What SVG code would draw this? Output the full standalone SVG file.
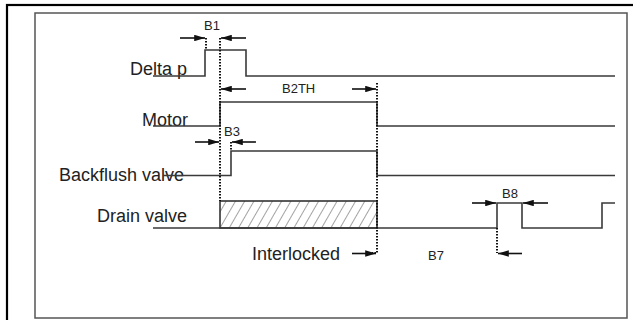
<svg xmlns="http://www.w3.org/2000/svg" width="633" height="320" viewBox="0 0 633 320">
<defs>
<marker id="ah" viewBox="0 0 10 6" refX="10" refY="3" markerWidth="11" markerHeight="6.5" markerUnits="userSpaceOnUse" orient="auto">
<path d="M0,0 L10,3 L0,6 Z" fill="#111"/>
</marker>
<pattern id="hatch" patternUnits="userSpaceOnUse" width="8" height="8" patternTransform="rotate(30)">
<line x1="0" y1="0" x2="0" y2="8" stroke="#333" stroke-width="0.9"/>
</pattern>
</defs>
<style>
.sig{fill:none;stroke:#3a3a3a;stroke-width:1.6}
.dot{fill:none;stroke:#111;stroke-width:2;stroke-dasharray:1.6 1.4}
.arr{stroke:#111;stroke-width:1.6;marker-end:url(#ah)}
.lbl{font-family:"Liberation Sans",Arial,sans-serif;font-size:18px;fill:#222}
.sm{font-family:"Liberation Sans",Arial,sans-serif;font-size:13px;fill:#222}
</style>
<rect x="0" y="0" width="633" height="320" fill="#fff"/>
<rect x="7" y="5" width="700" height="400" fill="none" stroke="#000" stroke-width="2.2"/>
<rect x="35" y="13" width="592" height="305" fill="none" stroke="#555" stroke-width="1.5"/>

<g id="delta-p">
<text class="lbl" x="130" y="75">Delta p</text>
<polyline class="sig" points="153,76 205,76 205,50 246,50 246,76 615,76"/>
</g>
<g id="motor">
<text class="lbl" x="142" y="126">Motor</text>
<polyline class="sig" points="153,126 220,126 220,102 377,102 377,126 615,126"/>
</g>
<g id="backflush-valve">
<text class="lbl" x="59" y="181">Backflush valve</text>
<polyline class="sig" points="163,175.5 231,175.5 231,151 377,151 377,175.5 615,175.5"/>
</g>
<g id="drain-valve">
<text class="lbl" x="97" y="222">Drain valve</text>
<rect x="220" y="201" width="157" height="27" fill="url(#hatch)" stroke="#333" stroke-width="1.6"/>
<polyline class="sig" points="153,228 497,228 497,203 522,203 522,228 602,228 602,203 615,203"/>
</g>

<g id="connectors">
<line class="dot" x1="206" y1="38" x2="206" y2="50"/>
<line class="dot" x1="220" y1="38" x2="220" y2="201"/>
<line class="dot" x1="231" y1="142" x2="231" y2="151"/>
<polyline class="dot" points="377,83 377,253 372,253"/>
<line class="dot" x1="497" y1="228" x2="497" y2="253"/>

<line class="arr" x1="180" y1="38" x2="205" y2="38"/>
<line class="arr" x1="246" y1="38" x2="221" y2="38"/>
<line class="arr" x1="246" y1="89" x2="221" y2="89"/>
<line class="arr" x1="352" y1="89" x2="376" y2="89"/>
<line class="arr" x1="195" y1="142" x2="219" y2="142"/>
<line class="arr" x1="256" y1="142" x2="232" y2="142"/>
<line class="arr" x1="352" y1="253.5" x2="376" y2="253.5"/>
<line class="arr" x1="472" y1="203" x2="496" y2="203"/>
<line class="arr" x1="548" y1="203" x2="523" y2="203"/>
<line class="arr" x1="522" y1="253.5" x2="498" y2="253.5"/>
</g>

<g id="labels">
<text class="sm" x="204" y="30">B1</text>
<text class="sm" x="282" y="93">B2TH</text>
<text class="sm" x="224" y="136">B3</text>
<text class="sm" x="502" y="198">B8</text>
<text class="sm" x="428" y="260">B7</text>
<text class="lbl" x="252" y="260">Interlocked</text>
</g>
</svg>
